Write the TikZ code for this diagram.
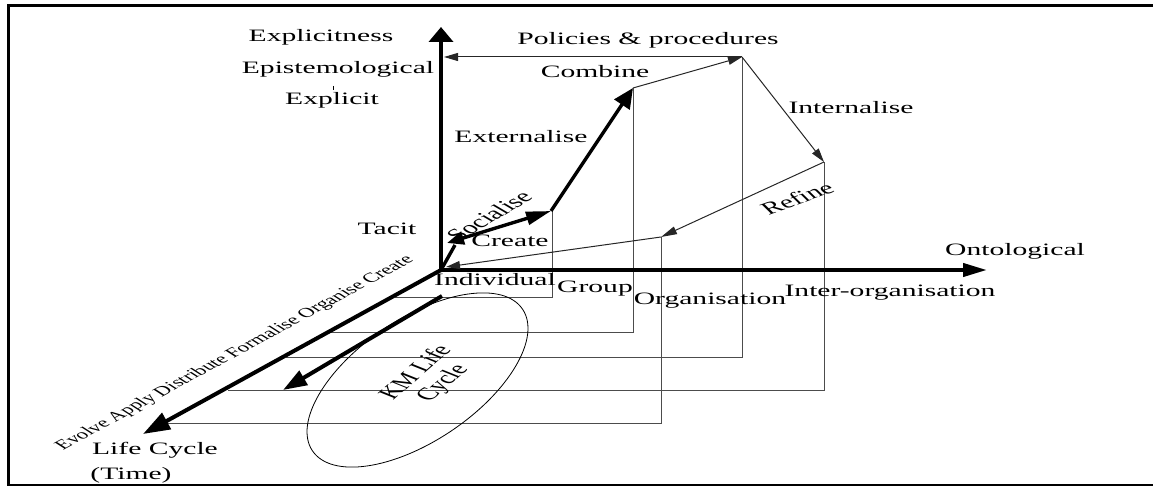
\documentclass[tikz,border=0pt]{standalone}
\usepackage{fontspec}
\setmainfont{Liberation Serif}
\usetikzlibrary{arrows.meta}
\begin{document}
\begin{tikzpicture}[x=1pt,y=-1pt,
  lbl/.style={font=\fontsize{17.4}{20}\selectfont, inner sep=0pt, xscale=1.7, anchor=base},
  rlbl/.style={font=\fontsize{17.4}{19}\selectfont, inner sep=0pt, xscale=1.7, align=center},
  axisln/.style={line width=4pt},
  procln/.style={line width=3.4pt},
  thinln/.style={line width=1pt, black!85},
  projln/.style={line width=1pt, black!70},
  smallhead/.style={-{Triangle[length=14pt,width=8pt]}},
  frameln/.style={line width=3pt}
]
\useasboundingbox (0,0) rectangle (1153,486);

% frame
\draw[frameln] (1153,5.5) -- (8.5,5.5) -- (8.5,485);
\draw[line width=2pt] (7,485) -- (1153,485);

% key points
\coordinate (O) at (441,270);
\coordinate (Ytop) at (441,27);
\coordinate (Xend) at (987,270);
\coordinate (LC) at (143,434);
\coordinate (D1) at (442,296);
\coordinate (D2) at (283,390);
\coordinate (C1) at (455,245);
\coordinate (Sa) at (447,243);
\coordinate (S) at (551,211);
\coordinate (E) at (633,88);
\coordinate (P) at (742,57);
\coordinate (Pa) at (444,57);
\coordinate (I) at (824,162);
\coordinate (R) at (661,237);
\coordinate (Oa) at (446,267);

% projection lines
\coordinate (S1) at (552,297);  \coordinate (S2) at (395,297);
\coordinate (E1) at (633,332);  \coordinate (E2) at (330,332);
\coordinate (P1) at (742,357);  \coordinate (P2) at (286,357);
\coordinate (I1) at (824,390);  \coordinate (I2) at (228,390);
\coordinate (R1) at (661,423);  \coordinate (R2) at (168,423);
\draw[projln] (552,211) -- (S1) -- (S2);
\draw[projln] (E) -- (E1) -- (E2);
\draw[projln] (P) -- (P1) -- (P2);
\draw[projln] (I) -- (I1) -- (I2);
\draw[projln] (R) -- (R1) -- (R2);

% ellipse
\coordinate (EC) at (417.5,380);
\draw[line width=0.8pt, rotate around={34:(EC)}] (EC) ellipse [x radius=126.7pt, y radius=61.1pt];

% axes
\draw[axisln, -{Triangle[length=15pt,width=24pt]}] (O) -- (Ytop);
\draw[axisln, -{Triangle[length=24pt,width=13pt]}] (O) -- (Xend);
\draw[axisln, -{Triangle[length=27pt,width=18pt]}] (O) -- (LC);
\draw[axisln, -{Triangle[length=24pt,width=16pt]}] (D1) -- (D2);

% process arrows
\draw[procln] (O) -- (C1);
\draw[procln, {Triangle[length=17pt,width=13pt]}-{Triangle[length=25pt,width=13pt]}] (Sa) -- (S);
\draw[procln, -{Triangle[length=20pt,width=18pt]}] (S) -- (E);
\draw[thinln, smallhead] (E) -- (P);
\draw[thinln, smallhead] (P) -- (Pa);
\draw[thinln, smallhead] (P) -- (I);
\draw[thinln, -{Triangle[length=16pt,width=8pt]}] (I) -- (R);
\draw[thinln, smallhead] (R) -- (Oa);

% tiny tick
\draw[line width=0.6pt] (333,86) -- (333,90);

% labels
\node[lbl] (explicitness) at (321,41.5) {Explicitness};
\node[lbl] (epist) at (338,74) {Epistemological};
\node[lbl] (explicit) at (332,105) {Explicit};
\node[lbl] (tacit) at (387,235) {Tacit};
\node[lbl] (policies) at (648,45) {Policies \& procedures};
\node[lbl] (combine) at (595,78) {Combine};
\node[lbl] (external) at (521,143) {Externalise};
\node[lbl] (internal) at (851,114) {Internalise};
\node[lbl] (create) at (510,246.7) {Create};
\node[lbl] (indiv) at (495,285) {Individual};
\node[lbl] (group) at (595,292.7) {Group};
\node[lbl] (org) at (710,304) {Organisation};
\node[lbl] (interorg) at (890,296) {Inter-organisation};
\node[lbl] (onto) at (1015,255) {Ontological};
\node[lbl] (lifecycle) at (155,454) {Life Cycle};
\node[lbl] (time) at (131,479) {(Time)};

\node[rlbl, rotate=45] (socialise) at (489,216) {Socialise};
\node[rlbl, rotate=31] (refine) at (797,198) {Refine};
\node[rlbl, rotate=55.7] (kmlc) at (430,378) {KM Life\\Cycle};
\node[font=\fontsize{13.5}{16}\selectfont, inner sep=0pt, xscale=1.7, rotate=42.6] (phases) at (235,353) {Evolve Apply Distribute Formalise Organise Create};
\end{tikzpicture}
\end{document}
